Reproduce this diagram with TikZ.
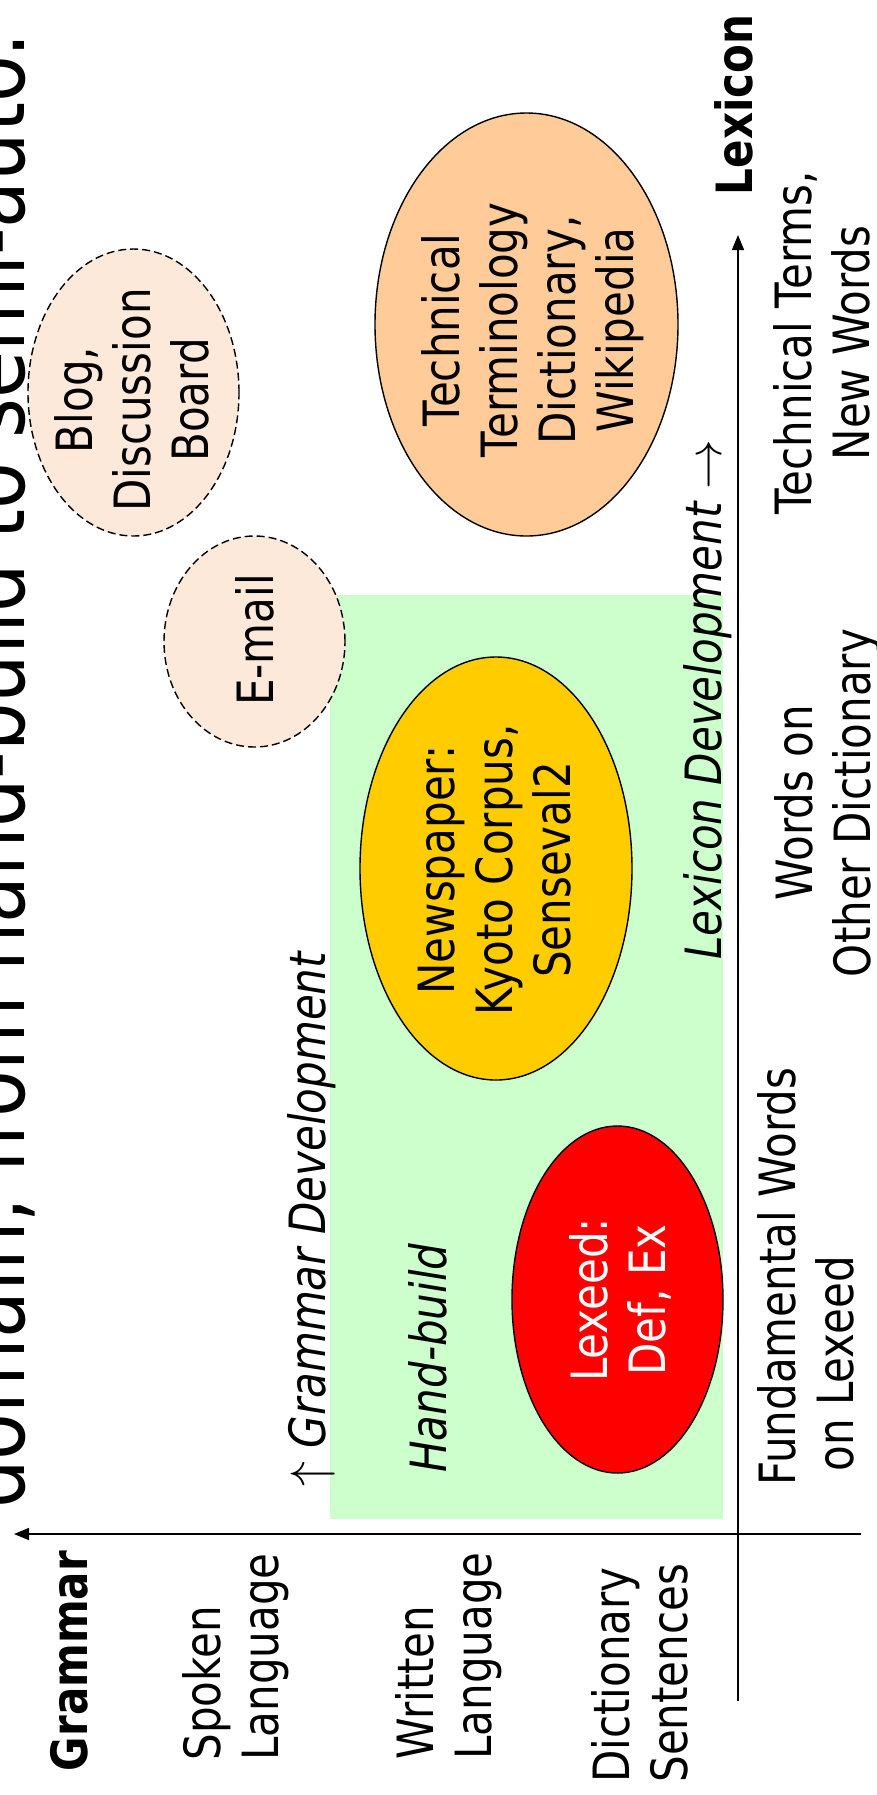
\documentclass[tikz,border=0pt]{standalone}
\usepackage{fontspec}
\setmainfont{DejaVu Sans}[FakeStretch=0.84,
  BoldFont={DejaVu Sans Bold}, ItalicFont={DejaVu Sans Oblique}]
\usetikzlibrary{arrows.meta,shapes.geometric}
\definecolor{handgreen}{HTML}{CCFFCC}
\definecolor{webpeach}{HTML}{FDE9D9}
\definecolor{techpeach}{HTML}{FFCC99}
\definecolor{newsgold}{HTML}{FFCC00}
\definecolor{lexred}{HTML}{FF0000}

\begin{document}
\begin{tikzpicture}[x=0.5pt, y=-0.5pt, >={Triangle[length=7.5pt,width=6pt]},
		axis/.style={->, line width=0.8pt},
		blob/.style={ellipse, draw, line width=0.7pt, inner sep=0pt},
		webblob/.style={blob, fill=webpeach, dash pattern=on 4pt off 2pt},
		lbl/.style={rotate=90, inner sep=0pt, align=center, font=\fontsize{25}{29}\selectfont},
		axlabel/.style={lbl, font=\fontsize{25}{29}\selectfont\bfseries},
		dev/.style={lbl, font=\fontsize{25}{29}\selectfont\itshape}]
		
		\clip (0,0) rectangle (877,1795);
		\fill[white] (0,0) rectangle (877,1795);
		
		% ---------- Slide title (cut off at the page edge) ----------
		\node[lbl, font=\fontsize{45.5}{54}\selectfont, anchor=base west] (title) at (25,1509)
		{domain, from hand-build to semi-auto.};
		
		% ---------- Hand-build zone ----------
		\fill[handgreen] (330,595) rectangle (723,1519);
		
		% ---------- Axes ----------
		\coordinate (gtip) at (14,1534);
		\coordinate (gend) at (861,1534);
		\coordinate (ltip) at (738,235);
		\coordinate (lend) at (738,1701);
		\draw[axis] (gend) -- (gtip);
		\draw[axis] (lend) -- (ltip);
		
		% ---------- Resources ----------
		\node[webblob, minimum width=105.5pt, minimum height=143.5pt] (blog) at (133.5,392.5) {};
		\node[blob, fill=techpeach, minimum width=151.5pt, minimum height=211.5pt] (tech) at (526.5,324.5) {};
		\node[webblob, minimum width=90.5pt, minimum height=105.5pt] (email) at (254.5,641.5) {};
		\node[blob, fill=newsgold, minimum width=136pt, minimum height=211.5pt] (news) at (496,868.5) {};
		\node[blob, fill=lexred, minimum width=105.5pt, minimum height=173.5pt] (lexeed) at (617.5,1299.5) {};
		
		\node[lbl] (blogtext) at (131.5,400) {Blog,\\Discussion\\Board};
		\node[lbl] (techtext) at (533,330) {Technical\\Terminology\\Dictionary,\\Wikipedia};
		\node[lbl] (emailtext) at (255,640) {E-mail};
		\node[lbl] (newstext) at (495,870) {Newspaper:\\Kyoto Corpus,\\Senseval2};
		\node[lbl, text=white] (lexeedtext) at (620,1300) {Lexeed:\\Def, Ex};
		
		% ---------- Axis names ----------
		\node[axlabel, anchor=base] (lexname) at (752,105) {Lexicon};
		\node[axlabel, anchor=base] (gramname) at (87,1661) {Grammar};
		
		% Lexicon levels
		\node[lbl, align=left, anchor=north west] (fund) at (757,1486) {Fundamental Words\\\hspace*{7pt}on Lexeed};
		\node[lbl, anchor=north] (other) at (774,803) {Words on\\Other Dictionary};
		\node[lbl, anchor=north] (terms) at (773.5,343) {Technical Terms,\\New Words};
		
		% Grammar levels
		\node[lbl, align=left, anchor=north west] (spoken) at (182.5,1761) {Spoken\\Language};
		\node[lbl, align=left, anchor=north west] (written) at (395.5,1760) {Written\\Language};
		\node[lbl, align=left, anchor=north west] (dictsent) at (591.5,1783) {Dictionary\\Sentences};
		
		% ---------- Development directions ----------
		\node[dev, anchor=base west] (lexdev) at (721,960) {Lexicon Development $\rightarrow$};
		\node[dev, anchor=base west] (gramdev) at (325,1487) {$\uparrow$ Grammar Development};
		\node[dev, anchor=base west] (handbuild) at (446,1473) {Hand-build};
		
	\end{tikzpicture}
\end{document}
